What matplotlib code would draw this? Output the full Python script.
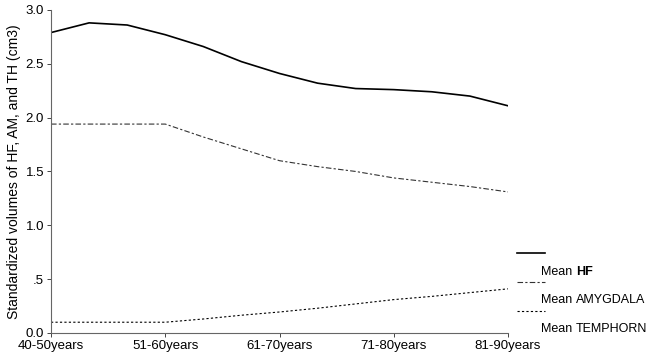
import matplotlib.pyplot as plt
from matplotlib.lines import Line2D

plt.rcParams['font.family'] = ['Liberation Sans', 'DejaVu Sans']

# age groups (tick labels) and sample positions (every 1/3 of a group)
age_groups = ['40-50years', '51-60years', '61-70years', '71-80years', '81-90years']
x_pos = [0, 1/3, 2/3, 1, 4/3, 5/3, 2, 7/3, 8/3, 3, 10/3, 11/3, 4]

# mean standardized volumes
hf = [2.79, 2.88, 2.86, 2.77, 2.66, 2.52, 2.41, 2.32, 2.27, 2.26, 2.24, 2.20, 2.11]
amygdala = [1.94, 1.94, 1.94, 1.94, 1.82, 1.71, 1.60, 1.545, 1.50, 1.44, 1.40, 1.36, 1.31]
temphorn = [0.10, 0.10, 0.10, 0.10, 0.13, 0.165, 0.195, 0.23, 0.27, 0.31, 0.34, 0.375, 0.41]

y_ticks = [0.0, 0.5, 1.0, 1.5, 2.0, 2.5, 3.0]
y_ticklabels = ['0.0', '.5', '1.0', '1.5', '2.0', '2.5', '3.0']


def main():
    fig = plt.figure(figsize=(6.5, 3.55), dpi=100)
    ax = fig.add_axes([0.0785, 0.062, 0.703, 0.91])

    ax.plot(x_pos, hf, color='black', lw=1.2, solid_joinstyle='round')
    ax.plot(x_pos, amygdala, color='#333333', lw=0.8, linestyle=(0, (5, 2, 2, 2)))
    ax.plot(x_pos, temphorn, color='black', lw=0.8, linestyle=(0, (2, 2)))

    ax.set_xlim(0, 4)
    ax.set_ylim(0, 3)
    ax.set_xticks(range(len(age_groups)))
    ax.set_xticklabels(age_groups, fontsize=9.5)
    ax.set_yticks(y_ticks)
    ax.set_yticklabels(y_ticklabels, fontsize=9.5)
    ax.tick_params(length=3, width=0.7, color='#444444', pad=2)
    for side in ['top', 'right']:
        ax.spines[side].set_visible(False)
    for side in ['left', 'bottom']:
        ax.spines[side].set_color('#666666')
        ax.spines[side].set_linewidth(0.8)
    ax.set_ylabel('Standardized volumes of HF, AM, and TH (cm3)', fontsize=10, labelpad=3)

    # hand-made legend: line sample above its label
    W, H = 650.0, 355.0
    legend_items = [
        ('black', 1.2, '-', 253, 272, 'HF'),
        ('#333333', 0.8, (0, (5, 2, 2, 2)), 282, 300, 'AMYGDALA'),
        ('black', 0.8, (0, (2, 2)), 311, 329, 'TEMPHORN'),
    ]
    for color, lw, ls, ly, ty, name in legend_items:
        fig.add_artist(Line2D([517 / W, 545 / W], [1 - ly / H, 1 - ly / H],
                              color=color, lw=lw, linestyle=ls))
        t = fig.text(541 / W, 1 - ty / H, 'Mean ', fontsize=9, va='center')
        ax.annotate(name, xy=(1, 0.5), xycoords=t, va='center', ha='left',
                    fontsize=9, fontweight='bold' if name == 'HF' else 'normal')

    fig.savefig('out.png', dpi=100)


if __name__ == '__main__':
    main()
